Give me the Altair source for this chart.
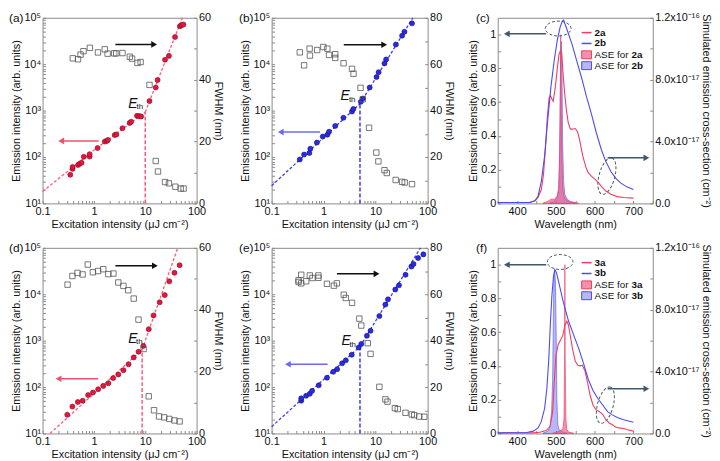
import altair as alt
import pandas as pd

# ---------------- data: panel (a) ----------------
A_EX = [0.347, 0.384, 0.384, 0.49, 0.527, 0.575, 0.636, 0.825, 0.825, 1.18, 1.63, 1.78, 1.88, 2.55, 2.74,
        3.6, 4.95, 5.32, 6.91, 7.64, 8.33, 12.1, 16.0, 17.4, 24.3, 28.9, 38.0, 47.2, 50.8, 55.4]
A_EY = [41.5, 55.5, 61.1, 67.3, 71.8, 75.4, 101, 102, 115, 156, 215, 222, 233, 298, 307,
        418, 541, 577, 772, 760, 748, 1600, 3150, 4570, 12450, 15100, 38600, 65800, 69000, 71400]
A_FX = [0.389, 0.49, 0.55, 0.627, 0.835, 1.2, 1.63, 1.85, 2.49, 2.72, 3.6, 5.01, 5.53, 7.07, 8.12,
        12.1, 16.0, 17.7, 24.3, 28.9, 38.6, 49.0, 55.8]
A_FY = [46.9, 46.6, 48.1, 49.2, 50.3, 48.8, 49.8, 48.4, 48.5, 48.5, 48.6, 47.4, 46.8, 45.4, 45.7,
        38.3, 13.7, 10.3, 6.9, 6.5, 5.4, 4.8, 4.8]
A_LO_X, A_LO_Y = [0.1, 1, 10], [18, 140, 930]
A_HI_X, A_HI_Y = [10, 53], [930, 100000]
A_ETH = (10, 930)

# ---------------- data: panel (b) ----------------
B_EX = [0.348, 0.421, 0.531, 0.555, 0.742, 0.963, 1.18, 1.27, 1.67, 2.40, 3.51, 3.72, 5.19, 5.66, 7.68,
        10.4, 11.4, 14.8, 15.9, 24.5, 32.3, 35.8, 50.0]
B_EY = [88.6, 113, 122, 151, 205, 275, 303, 350, 468, 701, 953, 1085, 1546, 1820, 3150,
        5280, 6730, 10400, 12650, 26600, 41100, 49900, 76000]
B_FX = [0.348, 0.421, 0.538, 0.546, 0.751, 0.988, 1.18, 1.27, 1.67, 1.67, 2.42, 3.51, 3.76, 5.13, 5.66,
        7.47, 10.3, 11.3, 14.8, 16.4, 24.3, 32.3, 36.2, 50.0]
B_FY = [65.1, 59.5, 66.7, 63.7, 66.1, 67.4, 66.7, 64.0, 64.3, 62.7, 60.4, 58.0, 55.9, 49.8, 44.9,
        32.6, 21.9, 18.1, 14.3, 13.1, 10.1, 9.3, 9.0, 8.3]
B_LO_X, B_LO_Y = [0.1, 5], [24, 1400]
B_HI_X, B_HI_Y = [5, 52], [1400, 100000]
B_ETH = (5, 1400)

# ---------------- data: panel (d) ----------------
D_EX = [0.303, 0.381, 0.487, 0.604, 0.772, 0.957, 1.21, 1.52, 1.91, 2.37, 2.99, 3.76, 4.73, 5.96, 7.39,
        9.17, 11.7, 14.5, 19.1, 24.0, 29.4, 37.1, 46.7]
D_EY = [25.3, 38.0, 47.7, 50.9, 67.2, 76.4, 90, 106, 121, 156, 187, 231, 310, 436, 575,
        771, 1770, 3500, 6710, 9600, 19000, 29000, 42200]
D_FX = [0.307, 0.381, 0.479, 0.603, 0.760, 0.956, 1.205, 1.52, 1.91, 2.40, 2.99, 3.76, 4.67, 5.96, 7.39,
        9.29, 11.7, 14.8, 18.6, 23.4, 29.4, 37.1, 46.7]
D_FY = [48.1, 50.9, 51.9, 51.4, 54.6, 52.1, 52.5, 53.1, 51.5, 51.7, 48.8, 47.7, 46.3, 43.6, 36.8,
        27.3, 12.0, 7.5, 5.5, 5.2, 4.7, 4.2, 3.9]
D_LO_X, D_LO_Y = [0.14, 8.7], [10, 640]
D_HI_X, D_HI_Y = [8.7, 43], [640, 100000]
D_ETH = (8.7, 640)

# ---------------- data: panel (e) ----------------
E_EX = [0.371, 0.371, 0.461, 0.542, 0.600, 0.804, 1.16, 1.53, 1.82, 2.27, 2.67, 3.47, 4.72, 5.30, 6.80,
        7.98, 11.8, 15.4, 17.3, 23.9, 28.1, 37.6, 48.9, 53.4, 65.5, 82.8]
E_EY = [50.9, 57.1, 65.0, 71.7, 82.9, 109, 159, 213, 243, 325, 377, 497, 711, 850, 1276,
        1630, 3390, 5990, 7770, 12650, 15600, 26300, 39500, 45000, 60400, 72300]
E_FX = [0.330, 0.330, 0.371, 0.371, 0.461, 0.542, 0.609, 0.793, 0.793, 1.16, 1.58, 1.80, 2.44, 2.67, 3.52,
        4.86, 5.30, 7.06, 7.98, 11.8, 15.4, 16.9, 23.5, 26.6, 37.6, 49.6, 55.1, 68.8, 86.2]
E_FY = [66.0, 65.3, 68.4, 64.7, 65.6, 68.1, 67.0, 68.1, 67.1, 64.5, 63.7, 64.7, 59.8, 58.4, 56.3,
        49.5, 46.5, 38.9, 34.3, 20.1, 14.7, 13.7, 10.9, 10.5, 8.9, 8.2, 7.9, 7.3, 7.2]
E_LO_X, E_LO_Y = [0.1, 5], [14, 750]
E_HI_X, E_HI_Y = [5, 73], [750, 100000]
E_ETH = (5, 750)

# ---------------- data: panel (c) ----------------
C_WA = [350, 392, 433, 446, 454, 462.5, 468, 473, 478, 482.5, 486, 490, 493, 498, 504, 508, 512, 515, 518,
        522, 527, 532, 537.5, 543, 550, 556, 562.5, 569, 577, 583, 592, 602, 610, 619, 629, 642, 658, 675, 700]
C_SA = [0.06, 0.06, 0.08, 0.17, 0.38, 0.9, 1.85, 3.5, 5.6, 6.8, 6.97, 6.74, 6.6, 7.4, 8.8, 9.64, 9.9, 9.75, 8.6,
        7.3, 6.06, 5.2, 4.8, 4.8, 4.84, 4.63, 3.96, 3.1, 2.38, 2.0, 1.75, 1.54, 1.33, 1.05, 0.8, 0.59, 0.44, 0.38, 0.34]
C_WB = [350, 433, 446, 454, 462.5, 471, 479, 487.5, 496, 504, 511, 517, 520, 525, 532, 542, 554, 567, 579,
        592, 604, 617, 629, 642, 654, 667, 683, 700]
C_SB = [0.06, 0.06, 0.17, 0.48, 1.43, 3.1, 5.4, 7.6, 9.3, 10.6, 11.4, 11.8, 11.85, 11.5, 11.0, 10.27, 9.2, 8.06,
        6.9, 5.75, 4.6, 3.5, 2.7, 2.06, 1.64, 1.33, 1.07, 0.9]
C_AWA = [466.7, 479, 487.5, 496, 504, 507.5, 510, 511.7, 512.5, 513.3, 515, 517.5, 521, 527, 537.5, 558]
C_AA = [0.002, 0.012, 0.025, 0.025, 0.044, 0.093, 0.325, 0.75, 1.0, 0.75, 0.325, 0.093, 0.044, 0.019, 0.008, 0.002]
C_AWB = [483, 496, 502.5, 507, 509, 511, 512.5, 514, 516, 517.5, 520, 523, 529, 537.5, 550]
C_AB = [0.002, 0.015, 0.035, 0.083, 0.21, 0.5, 0.9, 0.96, 0.75, 0.36, 0.13, 0.054, 0.025, 0.012, 0.004]

# ---------------- data: panel (f) ----------------
F_WA = [350, 441.7, 458.3, 475, 485, 491.7, 495.8, 500, 505.8, 512.5, 518.3, 523.3, 528.3, 532.5, 537.5, 543.3,
        550, 556.7, 562.5, 568.3, 575, 581.7, 588.3, 595.8, 604, 612.5, 620.8, 629, 637.5, 646, 654, 662.5,
        675, 683, 700]
F_SA = [0.04, 0.04, 0.08, 0.19, 0.46, 1.41, 3.31, 5.0, 5.74, 6.05, 6.37, 7.0, 7.26, 7.0, 6.27, 5.42,
        4.68, 4.41, 4.37, 4.41, 4.05, 3.31, 2.47, 1.84, 1.52, 1.41, 1.24, 0.89, 0.68, 0.57, 0.42, 0.36,
        0.32, 0.25, 0.15]
F_WB = [350, 425, 441.7, 454, 462.5, 471, 476.7, 481.7, 485.8, 490, 494, 497.5, 501.7, 506.7, 512.5, 518.3,
        525, 533.3, 545.8, 558.3, 570.8, 583.3, 595.8, 608.3, 620.8, 633.3, 645.8, 658.3, 675, 700]
F_SB = [0.04, 0.06, 0.15, 0.36, 0.78, 1.62, 2.89, 4.79, 7.11, 9.0, 10.17, 10.59, 10.38, 9.85, 9.22, 8.59,
        7.95, 7.22, 6.37, 5.53, 4.58, 3.52, 2.78, 2.26, 1.84, 1.41, 1.2, 1.03, 0.89, 0.72]
F_AWA = [491.7, 504, 512.5, 518, 521, 522.5, 523.3, 524, 525.8, 528, 533, 546]
F_AA = [0.002, 0.01, 0.017, 0.03, 0.09, 0.46, 1.0, 0.46, 0.09, 0.023, 0.008, 0.002]
F_AWB = [466.7, 479, 485, 489, 491.7, 493.3, 495, 496.7, 499, 501, 502.5, 505, 508, 516.7, 529]
F_AB = [0.002, 0.013, 0.04, 0.13, 0.32, 0.65, 0.92, 0.97, 0.9, 0.56, 0.21, 0.052, 0.023, 0.01, 0.002]

# ---------------- styling ----------------
FONT = "Liberation Sans"
H = 188
RED_PT, RED_EDGE, RED_DASH, RED_ARROW = "#e3173e", "#8a0a24", "#ff5a78", "#f0506c"
BLUE_PT, BLUE_EDGE, BLUE_DASH, BLUE_ARROW = "#2b2be6", "#10107a", "#3c3cf0", "#6b6bf2"
RED_LINE, BLUE_LINE = "#f23c5f", "#4b4bf5"
RED_FILL, BLUE_FILL = "#f0608a", "#7c7cf0"
SLATE = "#42586a"
SQ = "#555555"
TK = 3  # inward tick length

DUMMY = pd.DataFrame({"d": [0]})

XLOG_TICKS = sorted(set([round(m * 10 ** e, 6) for e in (-1, 0, 1) for m in range(1, 10)] + [100]))
YLOG_TICKS = sorted(set([round(m * 10 ** e, 6) for e in (1, 2, 3, 4) for m in range(1, 10)] + [100000]))
POW = "abs(log(datum.value)/LN10 - round(log(datum.value)/LN10)) < 0.001"
SUP = "['\u2070','\u00b9','\u00b2','\u00b3','\u2074','\u2075']"
INWARD = dict(domain=False, offset=-TK, tickSize=TK)

# custom ellipse symbols (cubic Bezier approximations, unit box -1..1)
ELL_H = ("M -1 0 C -1 -0.32 -0.552 -0.58 0 -0.58 C 0.552 -0.58 1 -0.32 1 0 "
         "C 1 0.32 0.552 0.58 0 0.58 C -0.552 0.58 -1 0.32 -1 0 Z")
ELL_V = ("M 0 -1 C 0.232 -1 0.42 -0.552 0.42 0 C 0.42 0.552 0.232 1 0 1 "
         "C -0.232 1 -0.42 0.552 -0.42 0 C -0.42 -0.552 -0.232 -1 0 -1 Z")


def vtext(txt, x, y, size=10, bold=False, align="left"):
    return alt.Chart(DUMMY).mark_text(
        align=align, baseline="middle", fontSize=size, font=FONT,
        fontWeight="bold" if bold else "normal", color="#111"
    ).encode(x=alt.value(x), y=alt.value(y), text=alt.value(txt))


def arrow(x1, x2, y, color, X, Y):
    df = pd.DataFrame({"x1": [x1], "x2": [x2], "y": [y]})
    rule = alt.Chart(df).mark_rule(color=color, strokeWidth=1.5).encode(x=X("x1"), x2="x2:Q", y=Y("y"))
    head = alt.Chart(df).mark_point(
        shape="triangle-left" if x2 < x1 else "triangle-right", filled=True, color=color, size=45, opacity=1
    ).encode(x=X("x2"), y=Y("y"))
    return [rule, head]


def log_panel(tag, tagx, W, ex, ey, fx, fy, lox, loy, hix, hiy, eth, eth_lbl, fwmax,
              pcol, pedge, dcol, acol, carrow, karrow):
    xs = alt.Scale(type="log", domain=[0.1, 100])
    ys = alt.Scale(type="log", domain=[10, 100000])
    fs = alt.Scale(domain=[0, fwmax])
    xax = alt.Axis(title="Excitation intensity (\u03bcJ cm\u207b\u00b2)", values=XLOG_TICKS,
                   labelExpr=f"{POW} ? format(datum.value, '~g') : ''",
                   labelOverlap=False, labelFlush=False, **INWARD)
    yax = alt.Axis(title="Emission intensity (arb. units)", values=YLOG_TICKS,
                   labelExpr=f"{POW} ? '10' + {SUP}[round(log(datum.value)/LN10)] : ''",
                   labelOverlap=False, labelFlush=False, **INWARD)
    fax = alt.Axis(title="FWHM (nm)", orient="right", values=list(range(0, fwmax + 1, 10)),
                   labelExpr="datum.value % 20 == 0 ? datum.value : ''", labelOverlap=False, **INWARD)

    def X(f):
        return alt.X(f, type="quantitative", scale=xs, axis=xax)

    def Y(f):
        return alt.Y(f, type="quantitative", scale=ys, axis=yax)

    def F(f):
        return alt.Y(f, type="quantitative", scale=fs, axis=fax)

    lo = alt.Chart(pd.DataFrame({"x": lox, "y": loy})).mark_line(
        color=dcol, strokeDash=[3, 2], strokeWidth=1.3).encode(x=X("x"), y=Y("y"))
    hi = alt.Chart(pd.DataFrame({"x": hix, "y": hiy})).mark_line(
        color=dcol, strokeDash=[3, 2], strokeWidth=1.3).encode(x=X("x"), y=Y("y"))
    vdf = pd.DataFrame({"x": [eth[0]], "y1": [10], "y2": [eth[1]]})
    vline = alt.Chart(vdf).mark_rule(color=dcol, strokeDash=[4, 2], strokeWidth=1.5).encode(
        x=X("x"), y=Y("y1"), y2="y2:Q")
    pts = alt.Chart(pd.DataFrame({"x": ex, "y": ey})).mark_point(
        shape="circle", filled=True, fill=pcol, stroke=pedge, strokeWidth=0.6, size=26, opacity=1
    ).encode(x=X("x"), y=Y("y"))
    edf = pd.DataFrame({"x": [eth_lbl[0]], "y": [eth_lbl[1]], "t": ["E"]})
    tdf = pd.DataFrame({"x": [eth_lbl[2]], "y": [eth_lbl[3]], "t": ["th"]})
    e_txt = alt.Chart(edf).mark_text(fontSize=14, fontStyle="italic", font=FONT, align="left",
                                     baseline="middle", color="#111").encode(x=X("x"), y=Y("y"), text="t:N")
    th_txt = alt.Chart(tdf).mark_text(fontSize=8, font=FONT, align="left", baseline="middle",
                                      color="#111").encode(x=X("x"), y=Y("y"), text="t:N")
    left = alt.layer(lo, hi, vline, pts, *arrow(carrow[0], carrow[1], carrow[2], acol, X, Y),
                     e_txt, th_txt, vtext(tag, tagx, 0, size=12))

    sq = alt.Chart(pd.DataFrame({"x": fx, "y": fy})).mark_point(
        shape="square", filled=False, color=SQ, strokeWidth=0.8, size=30, opacity=1
    ).encode(x=X("x"), y=F("y"))
    right = alt.layer(sq, *arrow(karrow[0], karrow[1], karrow[2], "#111", X, F))
    return alt.layer(left, right).resolve_scale(y="independent").properties(width=W, height=H)


def spec_panel(tag, tagx, W, na, nb, wa, sa, wb, sb, awa, aa, awb, ab, etop, elow, arl, arr):
    xs = alt.Scale(domain=[350, 750])
    ls = alt.Scale(domain=[0, 1.1])
    rs = alt.Scale(domain=[0, 12])
    xax = alt.Axis(title="Wavelength (nm)", values=[350, 400, 450, 500, 550, 600, 650, 700, 750],
                   labelExpr="datum.value % 100 == 0 && datum.value > 350 && datum.value < 750 ? datum.value : ''",
                   labelOverlap=False, labelFlush=False, **INWARD)
    lax = alt.Axis(title="Emission intensity (arb. units)",
                   values=[0, 0.1, 0.2, 0.3, 0.4, 0.5, 0.6, 0.7, 0.8, 0.9, 1.0],
                   labelExpr="round(datum.value * 10) % 2 == 0 ? format(datum.value, '~g') : ''",
                   labelOverlap=False, **INWARD)
    rax = alt.Axis(title="Simulated emission cross-section (cm\u207b\u00b2)", orient="right",
                   values=[0, 2, 4, 6, 8, 10, 12], titlePadding=1, labelOverlap=False, **INWARD,
                   labelExpr="datum.value == 0 ? '0.0' : datum.value == 4 ? '4.0x10\u207b\u00b9\u2077' : "
                             "datum.value == 8 ? '8.0x10\u207b\u00b9\u2077' : "
                             "datum.value == 12 ? '1.2x10\u207b\u00b9\u2076' : ''")

    def X(f):
        return alt.X(f, type="quantitative", scale=xs, axis=xax)

    def L(f):
        return alt.Y(f, type="quantitative", scale=ls, axis=lax)

    def R(f):
        return alt.Y(f, type="quantitative", scale=rs, axis=rax)

    area_b = alt.Chart(pd.DataFrame({"x": awb, "y": ab})).mark_area(
        fill=BLUE_FILL, fillOpacity=0.55, stroke=BLUE_LINE, strokeWidth=0.8, strokeOpacity=0.7
    ).encode(x=X("x"), y=L("y"))
    area_a = alt.Chart(pd.DataFrame({"x": awa, "y": aa})).mark_area(
        fill=RED_FILL, fillOpacity=0.7, stroke=RED_LINE, strokeWidth=0.8, strokeOpacity=0.8
    ).encode(x=X("x"), y=L("y"))
    e1 = alt.Chart(pd.DataFrame({"x": [etop[0]], "y": [etop[1]]})).mark_point(
        shape=ELL_H, size=676, filled=False, color=SLATE, strokeDash=[3, 2], strokeWidth=1, opacity=1
    ).encode(x=X("x"), y=L("y"))
    e2 = alt.Chart(pd.DataFrame({"x": [elow[0]], "y": [elow[1]]})).mark_point(
        shape=ELL_V, size=1444, angle=15, filled=False, color=SLATE, strokeDash=[3, 2], strokeWidth=1, opacity=1
    ).encode(x=X("x"), y=L("y"))

    lx0, lx1, tx, tx2 = 85, 95, 98, 135.5
    legend = [
        alt.Chart(DUMMY).mark_rule(color=RED_LINE, strokeWidth=1.5).encode(
            x=alt.value(lx0), x2=alt.value(lx1), y=alt.value(15)),
        alt.Chart(DUMMY).mark_rule(color=BLUE_LINE, strokeWidth=1.5).encode(
            x=alt.value(lx0), x2=alt.value(lx1), y=alt.value(26)),
        alt.Chart(DUMMY).mark_rect(fill=RED_FILL, fillOpacity=0.7, stroke=RED_LINE, strokeWidth=1).encode(
            x=alt.value(lx0), x2=alt.value(lx1), y=alt.value(33.5), y2=alt.value(41.5)),
        alt.Chart(DUMMY).mark_rect(fill=BLUE_FILL, fillOpacity=0.55, stroke=BLUE_LINE, strokeWidth=1).encode(
            x=alt.value(lx0), x2=alt.value(lx1), y=alt.value(44.5), y2=alt.value(52.5)),
        vtext(na, tx, 15, bold=True),
        vtext(nb, tx, 26, bold=True),
        vtext("ASE for", tx, 37.5),
        vtext(na, tx2, 37.5, bold=True),
        vtext("ASE for", tx, 48.5),
        vtext(nb, tx2, 48.5, bold=True),
    ]
    left = alt.layer(area_b, area_a, e1, e2,
                     *arrow(arl[0], arl[1], arl[2], SLATE, X, L),
                     *arrow(arr[0], arr[1], arr[2], SLATE, X, L),
                     *legend, vtext(tag, tagx, 0, size=12))
    la = alt.Chart(pd.DataFrame({"x": wa, "y": sa})).mark_line(color=RED_LINE, strokeWidth=1.1).encode(
        x=X("x"), y=R("y"))
    lb = alt.Chart(pd.DataFrame({"x": wb, "y": sb})).mark_line(color=BLUE_LINE, strokeWidth=1.1).encode(
        x=X("x"), y=R("y"))
    right = alt.layer(la, lb)
    return alt.layer(left, right).resolve_scale(y="independent").properties(width=W, height=H)


WA, WB, WC = 156, 158, 157

pa = log_panel("(a)", -34, WA, A_EX, A_EY, A_FX, A_FY, A_LO_X, A_LO_Y, A_HI_X, A_HI_Y, A_ETH,
               (4.68, 1380, 6.79, 1175), 60, RED_PT, RED_EDGE, RED_DASH, RED_ARROW,
               (1.24, 0.231, 222), (2.62, 14.9, 51.4))
pb = log_panel("(b)", -33, WB, B_EX, B_EY, B_FX, B_FY, B_LO_X, B_LO_Y, B_HI_X, B_HI_Y, B_ETH,
               (2.10, 2070, 3.06, 1650), 80, BLUE_PT, BLUE_EDGE, BLUE_DASH, BLUE_ARROW,
               (0.857, 0.150, 344), (2.44, 14.6, 68.4))
pc = spec_panel("(c)", -22, WC, "2a", "2b", C_WA, C_SA, C_WB, C_SB, C_AWA, C_AA, C_AWB, C_AB,
                (506, 1.036), (631.75, 0.162), (475, 373.5, 1.005), (633.5, 733.5, 0.27))
pd_ = log_panel("(d)", -34, WA, D_EX, D_EY, D_FX, D_FY, D_LO_X, D_LO_Y, D_HI_X, D_HI_Y, D_ETH,
                (4.68, 1085, 6.6, 937), 60, RED_PT, RED_EDGE, RED_DASH, RED_ARROW,
                (1.205, 0.205, 151), (2.62, 15.4, 54.2))
pe = log_panel("(e)", -33, WB, E_EX, E_EY, E_FX, E_FY, E_LO_X, E_LO_Y, E_HI_X, E_HI_Y, E_ETH,
               (2.20, 985, 3.13, 796), 80, BLUE_PT, BLUE_EDGE, BLUE_DASH, BLUE_ARROW,
               (1.19, 0.206, 310), (1.80, 10.4, 68.8))
pf = spec_panel("(f)", -22, WC, "3a", "3b", F_WA, F_SA, F_WB, F_SB, F_AWA, F_AA, F_AWB, F_AB,
                (511, 1.016), (627.7, 0.168), (475, 373.5, 1.0), (633.5, 733.5, 0.265))

row1 = alt.hconcat(alt.hconcat(pa, pb, spacing=14), pc, spacing=12)
row2 = alt.hconcat(alt.hconcat(pd_, pe, spacing=14), pf, spacing=12)
chart = alt.vconcat(row1, row2, spacing=11).properties(
    padding={"left": 0, "top": 0, "right": 0, "bottom": 0}
).configure_axis(
    labelFont=FONT, titleFont=FONT, labelFontSize=11, titleFontSize=11,
    titleFontWeight="normal", labelColor="#111", titleColor="#111",
    domainColor="#8a8a8a", tickColor="#8a8a8a", grid=False, labelPadding=2, titlePadding=2
).configure_view(stroke="#8a8a8a")

chart.save("out.html", embed_options={"renderer": "svg", "actions": False})
